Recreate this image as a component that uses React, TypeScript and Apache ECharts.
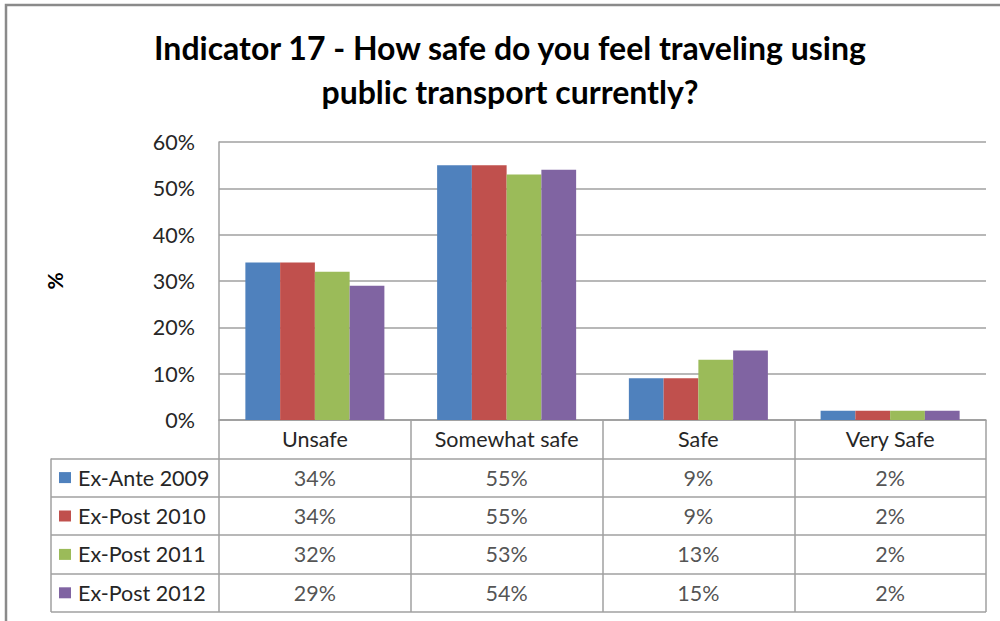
import React, { useEffect, useRef } from "react";
import * as echarts from "echarts";

const titleLines = ["Indicator 17 - How safe do you feel traveling using", "public transport currently?"];
const categories = ["Unsafe", "Somewhat safe", "Safe", "Very Safe"];
const seriesNames = ["Ex-Ante 2009", "Ex-Post 2010", "Ex-Post 2011", "Ex-Post 2012"];
const exAnte2009 = [34, 55, 9, 2];
const exPost2010 = [34, 55, 9, 2];
const exPost2011 = [32, 53, 13, 2];
const exPost2012 = [29, 54, 15, 2];
const seriesValues = [exAnte2009, exPost2010, exPost2011, exPost2012];
const colors = ["#4F81BD", "#C0504D", "#9BBB59", "#8064A2"];
const yTicks = { min: 0, max: 60, interval: 10 };
const yAxisName = "%";

const FONT = "Lato, 'Noto Sans', sans-serif";
const FS = 21.5;
const GRID_LEFT = 219;
const GRID_RIGHT = 14;
const PLOT_TOP = 142;
const PLOT_BOTTOM = 420;
const TABLE_BOTTOM = 612;
const LEGEND_LEFT = 51;
const LINE = "#a0a0a0";
const TEXT = "#262626";

export default function App() {
  const ref = useRef<HTMLDivElement>(null);
  useEffect(() => {
    if (!ref.current) return;
    const chart = echarts.init(ref.current, null, { renderer: "svg" });
    const rowCats = ["", ...seriesNames];
    const rich: any = { t: { fontFamily: FONT, fontSize: FS, color: TEXT, padding: [0, 0, 0, 7] } };
    colors.forEach((c, i) => {
      rich["s" + i] = { width: 12, height: 11, backgroundColor: c };
    });

    const barSeries = seriesNames.map((name, i) => ({
      name,
      type: "bar",
      xAxisIndex: 0,
      yAxisIndex: 0,
      data: seriesValues[i],
      itemStyle: { color: colors[i] },
      barGap: "0%",
      barCategoryGap: "27.5%",
    }));
    const cellSeries = seriesNames.map((name, i) => ({
      name: name + " table",
      type: "scatter",
      xAxisIndex: 1,
      yAxisIndex: 1,
      symbolSize: 0,
      silent: true,
      data: categories.map((c, j) => [c, name, seriesValues[i][j]]),
      label: {
        show: true,
        position: "inside",
        formatter: (p: any) => p.value[2] + "%",
        fontFamily: FONT,
        fontSize: FS,
        color: TEXT,
      },
    }));

    chart.setOption({
      animation: false,
      graphic: [
        {
          type: "rect",
          shape: { x: 6, y: 5, width: 1200, height: 800 },
          style: { fill: "none", stroke: "#8a8a8a", lineWidth: 2.5 },
          silent: true,
        },
        ...titleLines.map((t, i) => ({
          type: "text",
          x: 510,
          y: 47 + i * 44,
          style: {
            text: t,
            fontFamily: FONT,
            fontSize: 32,
            fontWeight: "bold",
            fill: "#000",
            textAlign: "center",
            textVerticalAlign: "middle",
          },
        })),
        {
          type: "line",
          shape: { x1: LEGEND_LEFT, y1: PLOT_BOTTOM + (TABLE_BOTTOM - PLOT_BOTTOM) / 5, x2: LEGEND_LEFT, y2: TABLE_BOTTOM },
          style: { stroke: LINE, lineWidth: 1.5 },
          silent: true,
        },
      ],
      grid: [
        { left: GRID_LEFT, right: GRID_RIGHT, top: PLOT_TOP, height: PLOT_BOTTOM - PLOT_TOP },
        { left: GRID_LEFT, right: GRID_RIGHT, top: PLOT_BOTTOM, height: TABLE_BOTTOM - PLOT_BOTTOM },
      ],
      xAxis: [
        {
          type: "category",
          gridIndex: 0,
          data: categories,
          axisLine: { show: true, lineStyle: { color: LINE, width: 1.5 } },
          axisTick: { show: false },
          axisLabel: { fontFamily: FONT, fontSize: FS, color: TEXT, margin: 8 },
          splitLine: { show: false },
        },
        {
          type: "category",
          gridIndex: 1,
          data: categories,
          axisLine: { show: false },
          axisTick: { show: false },
          axisLabel: { show: false },
          splitLine: { show: true, lineStyle: { color: LINE, width: 1.5 } },
        },
      ],
      yAxis: [
        {
          type: "value",
          gridIndex: 0,
          min: yTicks.min,
          max: yTicks.max,
          interval: yTicks.interval,
          name: yAxisName,
          nameLocation: "middle",
          nameRotate: 90,
          nameGap: 154,
          nameTextStyle: { fontFamily: FONT, fontSize: 21, fontWeight: "bold", color: "#000" },
          axisLine: { show: true, lineStyle: { color: LINE, width: 1.5 } },
          axisTick: { show: false },
          axisLabel: { formatter: "{value}%", fontFamily: FONT, fontSize: FS, color: TEXT, margin: 24 },
          splitLine: { show: true, lineStyle: { color: LINE, width: 1.5 } },
        },
        {
          type: "category",
          gridIndex: 1,
          inverse: true,
          data: rowCats,
          axisLine: { show: false },
          axisTick: {
            show: true,
            length: GRID_LEFT - LEGEND_LEFT,
            interval: (idx: number) => idx !== 0,
            lineStyle: { color: LINE, width: 1.5 },
          },
          axisLabel: {
            align: "left",
            margin: GRID_LEFT - 59,
            formatter: (v: string) => {
              const i = seriesNames.indexOf(v);
              return i < 0 ? "" : `{s${i}|}{t|${v}}`;
            },
            rich,
          },
          splitLine: { show: true, lineStyle: { color: LINE, width: 1.5 } },
        },
      ],
      series: [...barSeries, ...cellSeries],
    });
    return () => chart.dispose();
  }, []);
  return (
    <div
      ref={ref}
      style={{ position: "fixed", left: 0, top: 0, width: 1000, height: 621, background: "#fff" }}
    />
  );
}
